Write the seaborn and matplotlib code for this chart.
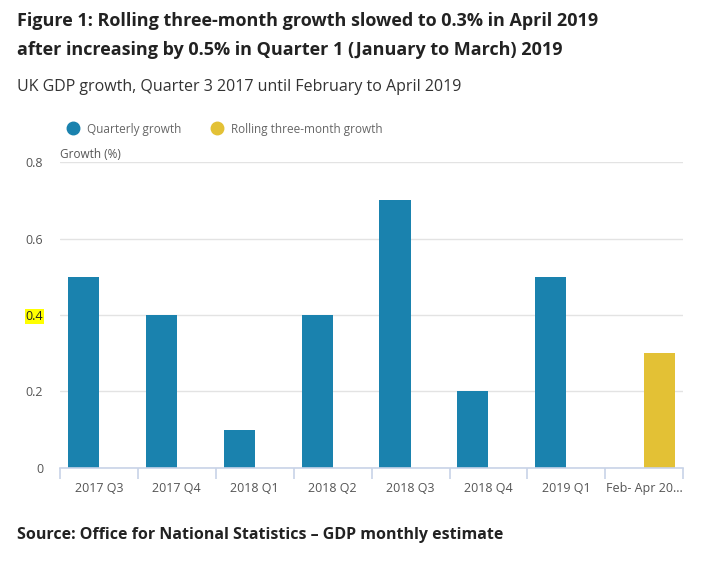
import pandas as pd
import seaborn as sns
import matplotlib.pyplot as plt
from matplotlib.lines import Line2D

# Data
categories = ['2017 Q3', '2017 Q4', '2018 Q1', '2018 Q2', '2018 Q3', '2018 Q4', '2019 Q1', 'Feb- Apr 20...']
quarterly_growth = [0.5, 0.4, 0.1, 0.4, 0.7, 0.2, 0.5]
rolling_growth = [0.3]
series_names = ['Quarterly growth', 'Rolling three-month growth']
series_colors = ['#1a82ae', '#e3c135']
y_ticks = [0, 0.2, 0.4, 0.6, 0.8]

rows = [(c, v, series_names[0]) for c, v in zip(categories[:7], quarterly_growth)]
rows += [(categories[7], rolling_growth[0], series_names[1])]
df = pd.DataFrame(rows, columns=['Period', 'Growth', 'Series'])

sns.set_style('white')
plt.rcParams['font.family'] = ['Open Sans', 'DejaVu Sans']

fig = plt.figure(figsize=(7.23, 5.61), dpi=100)
ax = fig.add_axes([0.083, 0.166, 0.862, 0.545])

sns.barplot(data=df, x='Period', y='Growth', hue='Series', order=categories,
            hue_order=series_names, palette=series_colors, width=0.8,
            dodge=True, saturation=1, legend=False, linewidth=0, ax=ax)

ax.set_ylim(0, 0.8)
ax.set_yticks(y_ticks)
ax.set_yticklabels(['0', '0.2', '0.4', '0.6', '0.8'])
ax.set_xlim(-0.5, len(categories) - 0.5)
ax.yaxis.grid(True, color='#e3e3e3', linewidth=1)
ax.set_axisbelow(True)
for s in ['top', 'right', 'left']:
    ax.spines[s].set_visible(False)
ax.spines['bottom'].set_color('#c8d3e8')
ax.spines['bottom'].set_linewidth(1.2)
ax.set_xlabel('')
ax.set_ylabel('')

# category boundary ticks
ax.set_xticks([i - 0.5 for i in range(len(categories) + 1)], minor=True)
ax.tick_params(axis='x', which='minor', length=8, color='#c8d3e8', width=1.2, bottom=True)
ax.tick_params(axis='x', which='major', length=0, pad=10, labelsize=9, labelcolor='#555555')
ax.tick_params(axis='y', length=0, pad=12, labelsize=9, labelcolor='#555555')
for lbl in ax.get_yticklabels():
    if lbl.get_text() == '0.4':
        lbl.set_bbox(dict(facecolor='#ffff00', edgecolor='none', pad=0.5))
        lbl.set_color('#222222')

ax.text(0.0, 1.005, 'Growth (%)', transform=ax.transAxes, fontsize=8.5,
        color='#555555', va='bottom', ha='left')

handles = [Line2D([], [], marker='o', linestyle='', markersize=9,
                  markerfacecolor=c, markeredgecolor=c) for c in series_colors]
fig.legend(handles, series_names, loc='center left', bbox_to_anchor=(0.07, 0.77),
           ncol=2, frameon=False, fontsize=8.5, labelcolor='#666666',
           handletextpad=0.2, columnspacing=2.0)

fig.text(0.024, 0.962, 'Figure 1: Rolling three-month growth slowed to 0.3% in April 2019',
         fontsize=13, fontweight='bold', color='#222222', va='center')
fig.text(0.024, 0.911, 'after increasing by 0.5% in Quarter 1 (January to March) 2019',
         fontsize=13, fontweight='bold', color='#222222', va='center')
fig.text(0.024, 0.845, 'UK GDP growth, Quarter 3 2017 until February to April 2019',
         fontsize=11.5, color='#333333', va='center')
fig.text(0.024, 0.046, 'Source: Office for National Statistics \u2013 GDP monthly estimate',
         fontsize=11.5, fontweight='bold', color='#222222', va='center')

fig.savefig('out.png', dpi=100)
